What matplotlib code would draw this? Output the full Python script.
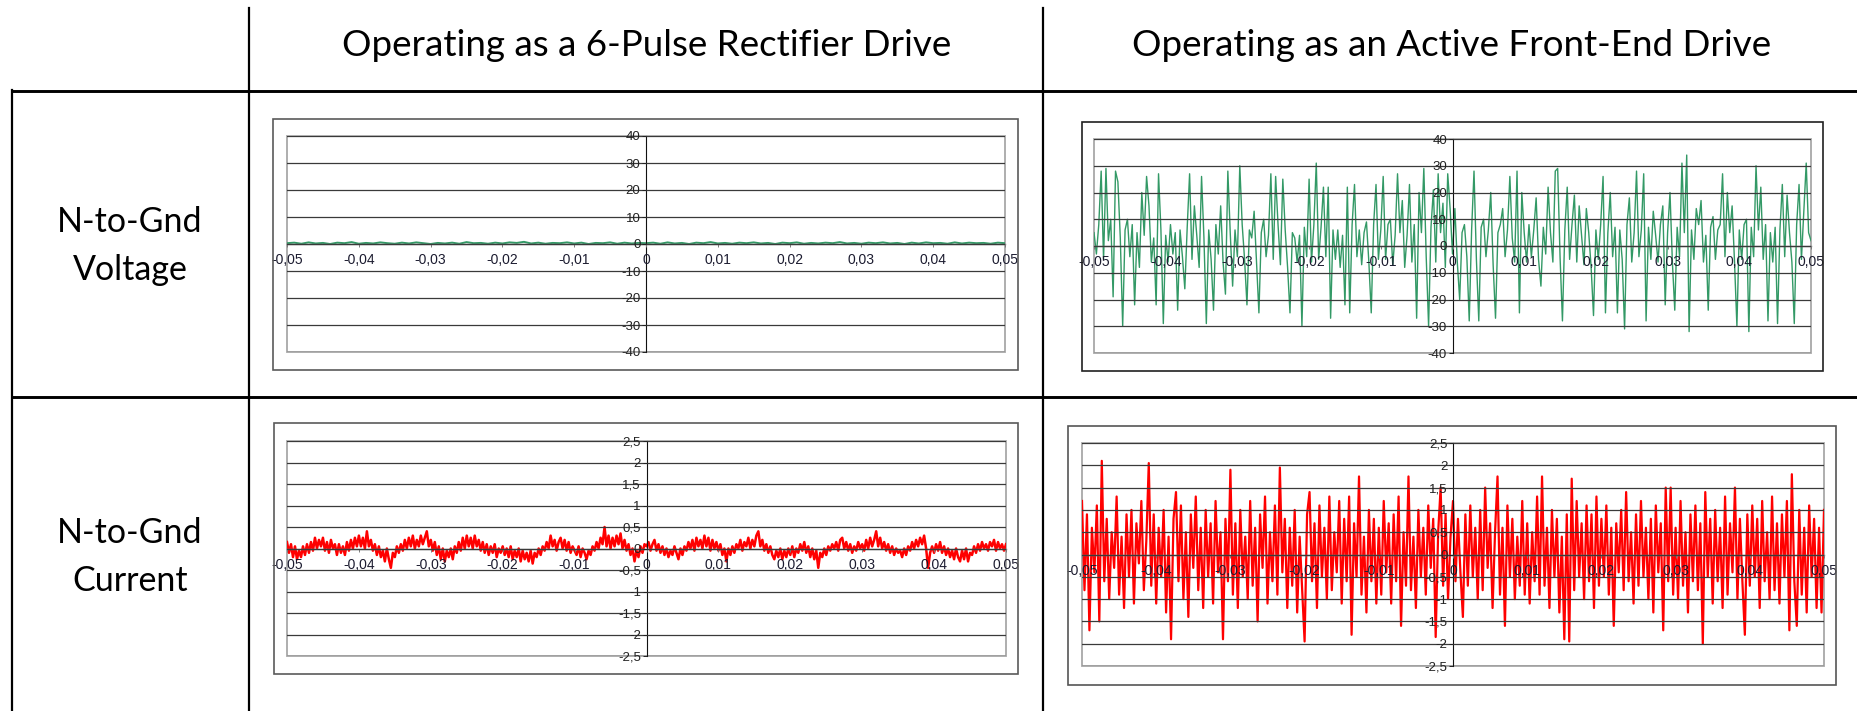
import numpy as np
import matplotlib.pyplot as plt
from matplotlib.patches import Rectangle
from matplotlib.lines import Line2D
from matplotlib.ticker import MultipleLocator, FuncFormatter

#----------------------------------------------------------
# table headers
col_titles = ['Operating as a 6-Pulse Rectifier Drive',
              'Operating as an Active Front-End Drive']
row_titles = ['N-to-Gnd\nVoltage', 'N-to-Gnd\nCurrent']

# N-to-Gnd voltage, 6-pulse rectifier drive (V), -0.05 .. 0.05 s
v_6p = [0.3, 0.5, 0.1, 0.6, 0.2, 0.4, 0.0, 0.5, 0.3, 0.7, 0.1, 0.4, 0.2, 0.6, 0.3, 0.1, 0.5, 0.2, 0.6, 0.3,
        0.0, 0.4, 0.2, 0.5, 0.1, 0.7, 0.3, 0.4, 0.1, 0.5, 0.2, 0.6, 0.4, 0.8, 0.2, 0.5, 0.1, 0.4, 0.3, 0.6,
        0.2, 0.5, 0.0, 0.4, 0.3, 0.6, 0.1, 0.5, 0.2, 0.4, 0.3, 0.5, 0.1, 0.6, 0.2, 0.4, 0.0, 0.5, 0.3, 0.7,
        0.2, 0.4, 0.1, 0.5, 0.3, 0.6, 0.2, 0.4, 0.0, 0.5, 0.3, 0.6, 0.1, 0.4, 0.2, 0.5, 0.3, 0.7, 0.2, 0.4,
        0.1, 0.5, 0.3, 0.6, 0.2, 0.4, 0.0, 0.5, 0.2, 0.6, 0.3, 0.4, 0.1, 0.6, 0.2, 0.5, 0.3, 0.4, 0.1, 0.5, 0.3]

# N-to-Gnd voltage, active front-end drive (V)
v_afe = [5, -3, 8, 28, -5, 29, 2, 10, -19, 28, 24, 3, -30, 6, 10, -4, 8, -22, 5, -8, 20, 4, 26, 15, -6, 3, -22, 27, 6, -29,
         4, -6, 8, -3, 5, -24, 6, -4, -16, 7, 27, -5, 15, 4, -8, 26, 3, -29, 6, -5, -24, 8, -3, 15, -6, -18, 28, 5, -15, 6,
         -4, 30, 8, -5, -22, 6, 3, 13, -6, -25, 5, 10, -4, 4, 27, -5, 26, 8, -7, 25, 6, -8, -25, 5, 3, -6, 4, -30, 7, -4,
         25, -6, 8, 31, -5, 7, 22, -4, 22, -27, 6, -5, 6, -8, 4, -22, 22, -25, 8, 23, -4, 6, -7, 5, 9, -6, -25, 8, 23, -5,
         6, 26, -5, 8, 10, -7, 4, 27, 5, 17, -8, 4, 23, -6, 8, -27, 20, 5, 29, -4, -30, 7, 21, -6, 27, 5, 16, -8, 27, 14,
         -3, 14, -6, -20, 5, 8, -4, -28, 6, 28, -5, -28, 7, 10, -4, 6, 20, -7, -27, 5, 8, 14, -4, 6, 26, 3, -6, 28, -25, 20,
         5, -6, 8, -4, 6, 18, -5, -15, 7, -3, 22, 5, -6, 28, 29, -4, -28, 6, 22, -5, 8, 19, -6, 15, 4, -7, 14, 5, -8, -26,
         6, -5, 8, 26, -25, 5, 20, -4, 7, -25, 6, -5, -31, 8, 18, -6, 5, 28, -4, 6, 27, -28, 7, -5, 13, 4, -6, 8, 15, -22,
         5, 20, -6, -24, 7, -4, 31, 5, 34, -32, 6, -5, 14, 8, 17, -6, 4, -24, 7, 11, -5, 6, 8, 27, -4, 20, 5, 15, -6, -30,
         6, -5, 8, 10, -32, 7, -4, 30, 6, 22, -5, 8, -28, 5, -6, 7, -29, 6, 23, -4, 19, 5, -6, -29, 8, 23, -5, 13, 31, 5, 2]

# N-to-Gnd current, 6-pulse rectifier drive (A)
i_6p = [0.15, -0.1, 0.1, -0.2, 0.05, -0.25, -0.05, -0.2, 0.05, -0.15, 0.1, -0.1, 0.15, -0.05, 0.25, 0.0, 0.2, 0.05,
        0.25, -0.05, 0.15, -0.1, 0.2, 0.0, 0.1, -0.15, 0.1, -0.1, 0.05, -0.15, 0.15, -0.05, 0.2, 0.0, 0.25, 0.05,
        0.3, 0.05, 0.25, 0.0, 0.4, 0.05, 0.2, -0.05, 0.1, -0.15, 0.05, -0.2, -0.05, -0.3, 0.0, -0.25, -0.45, -0.1,
        -0.2, 0.05, -0.1, 0.1, -0.05, 0.2, 0.0, 0.25, 0.05, 0.3, 0.0, 0.2, 0.05, 0.3, 0.1, 0.25, 0.4, 0.05,
        0.2, -0.05, 0.15, -0.15, 0.05, -0.25, 0.0, -0.3, -0.05, -0.2, 0.0, -0.25, 0.05, -0.1, 0.15, -0.05, 0.25, 0.0,
        0.3, 0.05, 0.25, 0.0, 0.3, 0.05, 0.2, -0.05, 0.15, -0.1, 0.1, -0.15, 0.05, -0.1, 0.1, -0.2, 0.0, -0.1,
        0.05, -0.15, 0.0, -0.2, 0.05, -0.25, -0.05, -0.2, 0.0, -0.3, -0.05, -0.25, -0.1, -0.3, -0.05, -0.35, -0.1, -0.2,
        0.0, -0.15, 0.05, -0.05, 0.15, 0.0, 0.3, 0.05, 0.2, -0.05, 0.15, 0.25, 0.0, 0.2, -0.05, 0.15, -0.1, 0.05,
        -0.05, -0.15, 0.05, -0.2, 0.0, -0.1, -0.25, -0.05, -0.15, 0.05, -0.05, 0.15, 0.0, 0.25, 0.1, 0.5, 0.05, 0.3,
        0.0, 0.25, 0.05, 0.3, 0.1, 0.35, 0.0, 0.2, -0.05, 0.1, -0.15, 0.0, -0.3, -0.05, -0.2, 0.05, -0.1, 0.1,
        0.05, 0.15, -0.05, 0.1, 0.2, -0.05, 0.1, -0.1, 0.05, -0.15, 0.0, -0.2, -0.05, -0.15, 0.05, -0.1, -0.25, 0.0,
        -0.15, 0.05, -0.05, 0.15, 0.0, 0.2, -0.05, 0.25, 0.05, 0.2, 0.0, 0.3, 0.05, 0.25, -0.05, 0.2, 0.0, 0.15,
        -0.05, 0.1, -0.15, 0.0, -0.3, 0.0, -0.15, 0.05, -0.1, 0.1, 0.0, 0.2, -0.05, 0.15, 0.05, 0.25, 0.0, 0.2,
        0.05, 0.3, 0.4, 0.05, 0.2, -0.05, 0.1, -0.1, 0.05, -0.15, -0.25, -0.05, -0.2, 0.0, -0.25, -0.05, -0.2, 0.0,
        -0.15, 0.05, -0.2, 0.0, -0.1, 0.1, -0.05, 0.15, -0.1, 0.05, -0.2, 0.0, -0.25, -0.05, -0.45, -0.1, -0.2, 0.0,
        -0.15, 0.05, -0.05, 0.1, 0.0, 0.15, -0.05, 0.2, 0.25, 0.0, 0.15, -0.05, 0.1, -0.1, 0.05, -0.05, 0.15, 0.0,
        0.1, -0.05, 0.2, 0.0, 0.25, 0.05, 0.2, 0.4, 0.05, 0.25, 0.0, 0.15, -0.05, 0.1, -0.1, 0.05, -0.15, 0.0,
        -0.1, -0.05, -0.2, 0.0, -0.15, 0.05, -0.05, 0.15, 0.0, 0.2, 0.05, 0.25, 0.1, 0.3, 0.0, -0.45, -0.1, 0.05,
        -0.1, 0.1, -0.05, 0.15, -0.1, 0.05, -0.15, 0.0, -0.2, -0.05, -0.25, 0.0, -0.2, -0.3, -0.05, -0.25, 0.0, -0.3,
        -0.1, -0.15, 0.05, -0.1, 0.1, -0.05, 0.15, 0.0, 0.1, -0.05, 0.15, 0.05, 0.2, -0.05, 0.15, 0.0, 0.1, -0.05, 0.1]

# N-to-Gnd current, active front-end drive (A)
i_afe = [1.2, -0.8, 0.9, -1.7, 0.6, -0.4, 1.1, -1.5, 2.1, -0.6, 0.8, -1.0, 0.5, -0.3, 1.3, -0.9, 0.4, -1.2, 0.9, -0.5, 1.0, -1.1, 0.7, -0.2, 1.2, -0.8, 0.3, 2.05, -0.7, 0.9,
         -1.1, 0.6, -0.5, 1.0, -1.3, 0.4, -1.9, 0.8, 1.4, -0.6, 1.1, -1.0, 0.5, -1.4, 0.9, -0.3, 1.3, -0.8, 0.6, -1.2, 1.0, -0.5, 0.7, -1.1, 1.2, -0.4, 0.5, -1.9, 0.8, -0.6,
         1.9, -0.9, 0.7, -1.2, 1.0, -0.5, 0.4, -1.0, 1.2, -0.7, 0.6, -1.5, 0.9, -0.3, 1.3, -1.1, 0.5, -0.6, 1.1, -0.9, 1.95, -0.4, 0.8, -1.2, 0.6, -0.7, 1.0, -1.3, 0.4, -0.8,
         -1.95, 0.9, 1.4, -0.6, 0.7, -1.2, 1.1, -0.5, 0.6, -1.0, 1.3, -0.8, 0.5, -0.4, 1.2, -1.1, 0.8, -0.6, 1.3, -1.8, 0.7, -0.5, 1.75, -0.9, 0.4, -1.3, 1.0, -0.6, 0.8, -1.1,
         0.6, -0.9, 1.2, -0.4, 0.7, -1.1, 0.9, -0.6, 1.3, -1.6, 0.5, -0.7, 1.75, -0.8, 0.4, -1.2, 1.0, -0.5, 0.6, -0.9, 1.1, -0.3, 0.8, -1.85, 0.5, 1.5, -0.7, 0.9, -1.0, 0.4,
         1.2, -0.6, 0.8, -0.4, -1.4, 0.9, -0.7, 1.1, -0.5, 0.6, -1.0, 1.0, -0.8, 1.5, -0.3, 0.7, -1.2, 0.5, 1.75, -0.9, 0.6, -1.6, 1.1, -0.5, 0.8, -1.0, 0.4, -0.7, 1.2, -0.9,
         0.7, -1.1, 0.5, -0.6, 1.3, -0.9, 1.75, -0.7, 0.6, -1.2, 1.0, -0.5, 0.8, -1.3, 0.4, -1.9, 0.9, -1.95, 1.7, -0.8, 1.2, -0.5, 0.7, -1.0, 1.1, -0.6, 0.9, -1.2, 1.3, -0.7,
         0.8, -0.5, 1.1, -0.9, 0.6, -1.6, 0.7, -0.4, 1.0, -0.8, 1.4, -0.6, 0.5, -1.1, 0.9, -0.7, 1.2, -0.5, 0.6, -1.0, 0.8, -1.3, 1.1, -0.4, 0.7, -1.7, 1.5, -0.6, 1.5, -0.9,
         0.6, -1.0, 1.2, -0.7, 0.5, -1.3, 0.9, -0.6, 1.1, -0.8, 0.7, -2.0, 1.4, -0.5, 0.8, -1.1, 1.0, -0.6, 0.6, -1.2, 1.3, -0.9, 0.7, -0.4, 1.5, -1.0, 0.8, -0.6, -1.8, 0.9,
         -0.7, 1.1, -0.5, 0.8, -1.2, 1.2, -0.6, 0.5, -1.0, 1.3, -0.8, 0.7, -1.1, 0.9, -0.5, 1.2, -1.7, 1.8, -0.6, -1.6, 1.0, -0.9, 0.6, -1.3, 1.1, -0.5, 0.8, -1.2, 0.6, -1.3, 1.0]

#----------------------------------------------------------
W, H = 1858, 711
plt.rcParams['font.family'] = ['Liberation Sans Narrow', 'Liberation Sans', 'DejaVu Sans']

fig = plt.figure(figsize=(W/100, H/100), dpi=100)


def fx(x):
	return x/W


def fy(y):
	return 1 - y/H


def comma(v, pos):
	v = round(v, 4)
	if v == 0:
		return '0'
	return ('%g' % v).replace('.', ',')


def panel(plot_px, frame_px, frame_col, values, color, lw, ylim, ystep):
	l, r, t, b = plot_px
	ax = fig.add_axes([fx(l), fy(b), fx(r) - fx(l), fy(t) - fy(b)])

	#outer chart frame
	fl, fr, ft, fb = frame_px
	fig.add_artist(Rectangle((fx(fl), fy(fb)), fx(fr) - fx(fl), fy(ft) - fy(fb),
			transform=fig.transFigure, fill=False, edgecolor=frame_col, lw=1.2))
	#plot area border
	ax.add_patch(Rectangle((0, 0), 1, 1, transform=ax.transAxes, fill=False,
			edgecolor='#a8a8a8', lw=1.3, clip_on=False, zorder=0.5))

	t_s = np.linspace(-0.05, 0.05, len(values))
	ax.plot(t_s, values, color=color, lw=lw, zorder=2)

	ax.set_xlim(-0.05, 0.05)
	ax.set_ylim(*ylim)
	ax.xaxis.set_major_locator(MultipleLocator(0.01))
	ax.yaxis.set_major_locator(MultipleLocator(ystep))
	ax.xaxis.set_major_formatter(FuncFormatter(comma))
	ax.yaxis.set_major_formatter(FuncFormatter(comma))

	ax.spines['top'].set_visible(False)
	ax.spines['right'].set_visible(False)
	ax.spines['left'].set_position(('data', 0))
	ax.spines['bottom'].set_position(('data', 0))
	ax.spines['left'].set_color('#111111')
	ax.spines['bottom'].set_color('#7a7a7a')
	ax.spines['left'].set_linewidth(0.8)
	ax.spines['bottom'].set_linewidth(1.0)

	ax.set_axisbelow(False)
	ax.yaxis.grid(True, color='#3a3a3a', lw=0.9)
	ax.tick_params(axis='y', direction='out', length=3, width=0.7,
			labelsize=9.5, pad=1, colors='#222222')
	ax.tick_params(axis='x', direction='out', length=2.5, width=0.7,
			labelsize=10, pad=4, colors='#7a7a7a', labelcolor='#1c1c30')
	ax.patch.set_alpha(0)
	return ax


panel((287, 1005, 136, 352), (273, 1018, 119, 370), '#5a5a5a',
	v_6p, '#339966', 1.4, (-40, 40), 10)
panel((1094, 1811, 139, 353), (1082, 1823, 122, 371), '#202020',
	v_afe, '#339966', 1.0, (-40, 40), 10)
panel((287, 1006, 441, 656), (274, 1018, 423, 674), '#5a5a5a',
	i_6p, '#ff0000', 1.8, (-2.5, 2.5), 0.5)
panel((1082, 1824, 443, 666), (1068, 1836, 426, 685), '#555555',
	i_afe, '#ff0000', 1.6, (-2.5, 2.5), 0.5)

#table rules
def rule(x0, y0, x1, y1, lw):
	fig.add_artist(Line2D([fx(x0), fx(x1)], [fy(y0), fy(y1)],
			transform=fig.transFigure, color='black', lw=lw))

rule(12, 91, W, 91, 2.1)
rule(12, 397, W, 397, 2.1)
rule(12, 90, 12, H, 1.6)
rule(249, 8, 249, H, 1.6)
rule(1043, 8, 1043, H, 1.6)

#headers
for txt, xc in zip(col_titles, (647, 1452)):
	fig.text(fx(xc), fy(46), txt, ha='center', va='center',
		fontsize=26.5, family='Lato', color='black')
for txt, yc in zip(row_titles, (246, 557)):
	fig.text(fx(130), fy(yc), txt, ha='center', va='center',
		fontsize=24.5, family='Lato', color='black', linespacing=1.6)

fig.savefig('out.png', dpi=100)
